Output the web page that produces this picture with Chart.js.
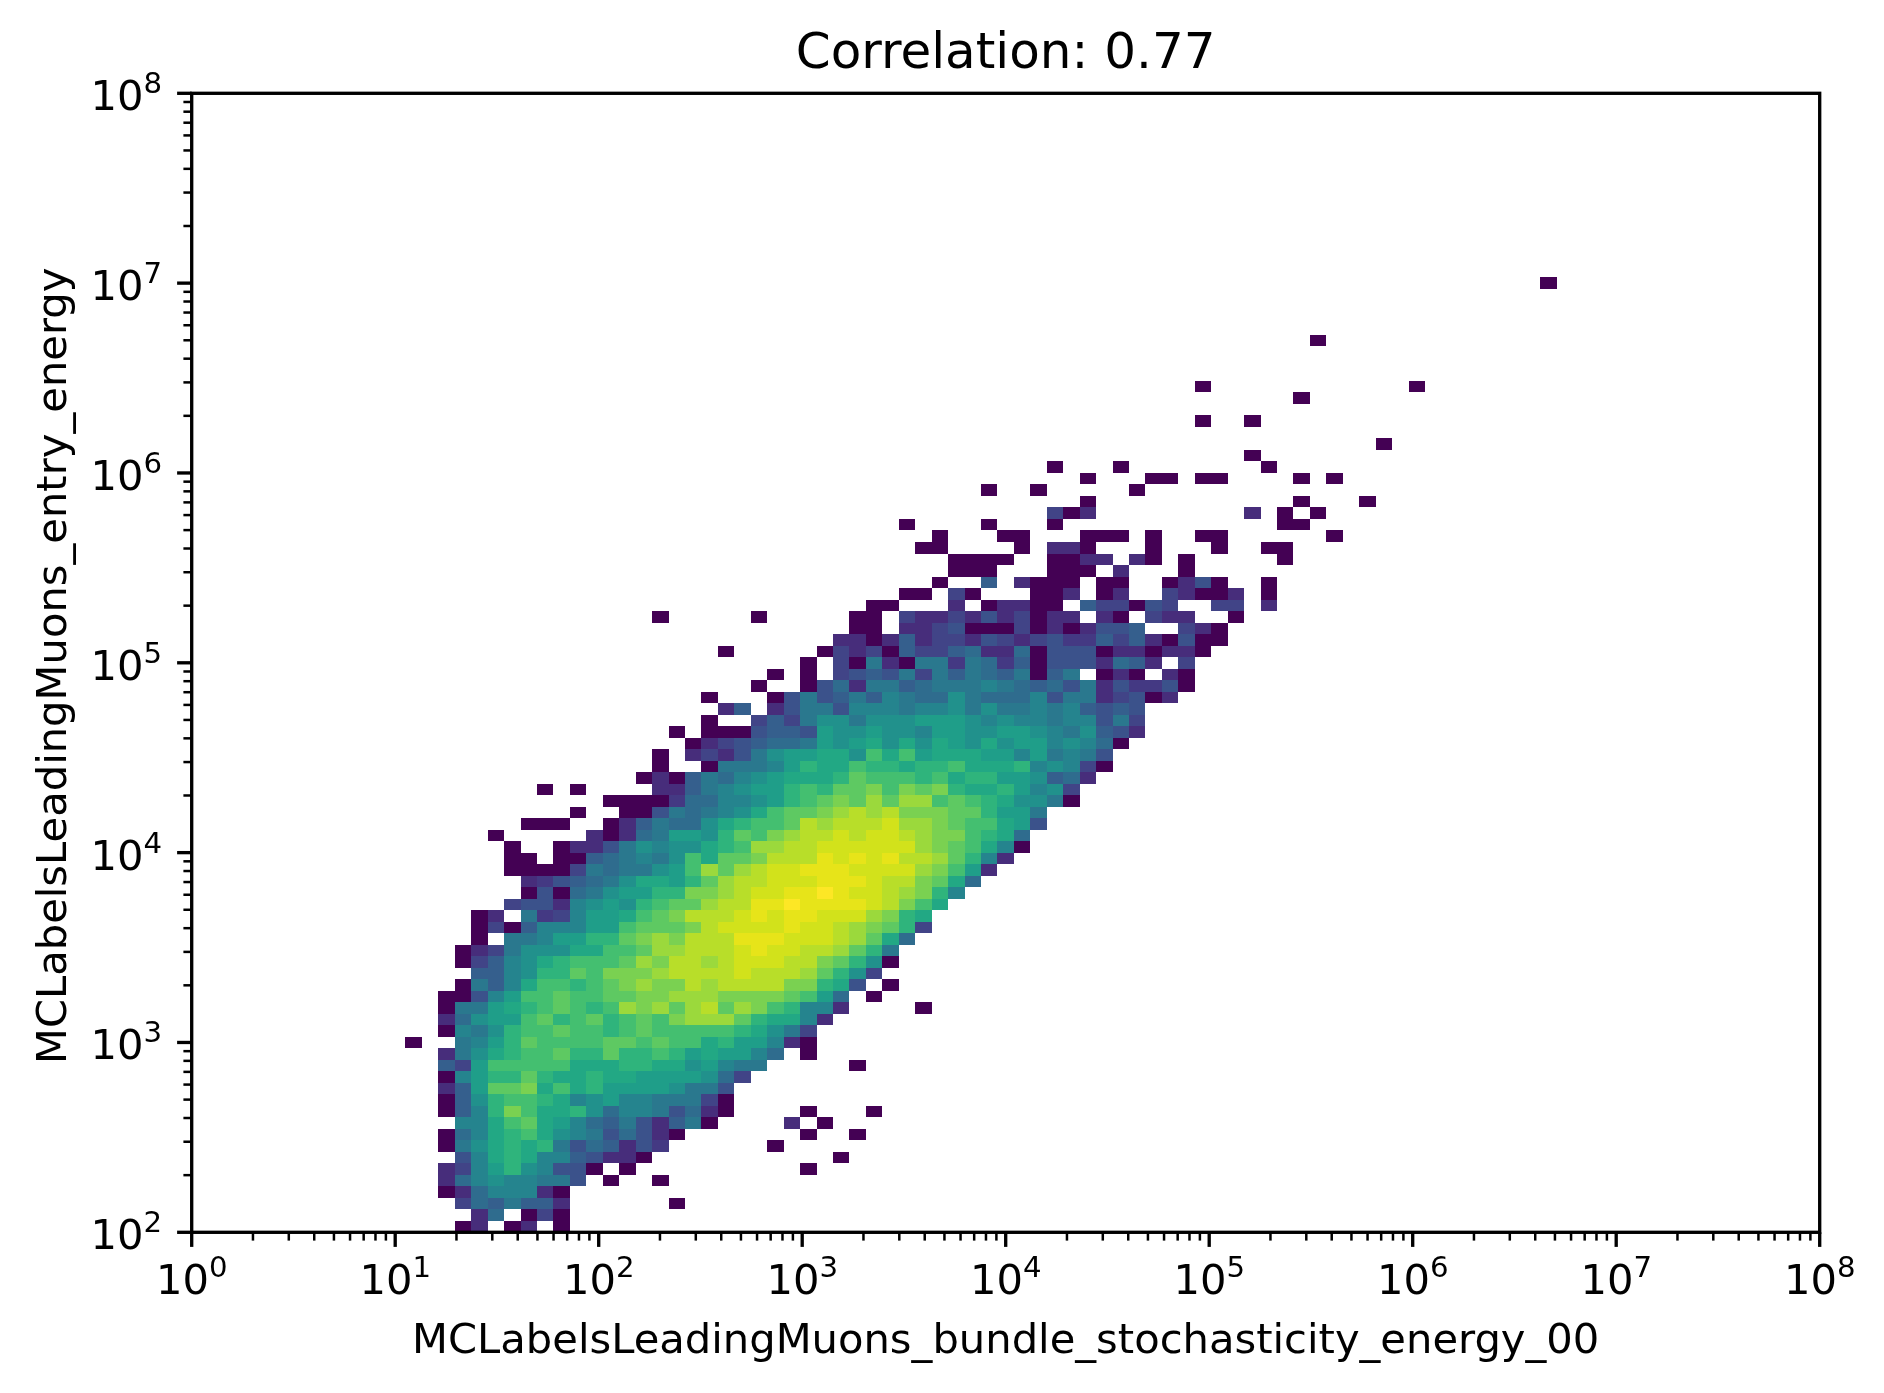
<!DOCTYPE html>
<html>
<head>
<meta charset="utf-8">
<title>Correlation</title>
<script src="https://cdn.jsdelivr.net/npm/chart.js@4"></script>
<style>
    html, body { margin: 0; padding: 0; background: #fff; }
    canvas { display: block; }
</style>
</head>
<body>
<canvas id="myChart" width="1884" height="1393"></canvas>
<script>
const titleText = "Correlation: 0.77";
const xLabel = "MCLabelsLeadingMuons_bundle_stochasticity_energy_00";
const yLabel = "MCLabelsLeadingMuons_entry_energy";

const xDecades = [0, 1, 2, 3, 4, 5, 6, 7, 8];
const yDecades = [2, 3, 4, 5, 6, 7, 8];
const minorSteps = [2, 3, 4, 5, 6, 7, 8, 9];
const binCount = 99;

// colour of each level, level is the log count on a 0-21 scale
const levelColors = [
    "#440154", "#471365", "#472d7b", "#443983", "#414487", "#3b528b", "#355f8d",
    "#2f6c8e", "#2a788e", "#25848e", "#21918c", "#1f9e89", "#22a884", "#2fb47c",
    "#44bf70", "#5ec962", "#7ad151", "#9bd93c", "#b8de29", "#d2e21b", "#e7e419", "#fde725"
];

// one entry per y bin from the bottom, each run is [first x bin, level, level, ...]
const heatRows = [
    [[16,0,2],[19,0,2],[22,0]],
    [[17,2,7],[20,0,4,0]],
    [[16,4,7,6,8,6,6,2],[29,0]],
    [[15,0,2,7,9,9,9,2,0]],
    [[15,2,7,9,10,9,9,8,8,5],[25,0],[28,0]],
    [[15,2,4,9,11,13,10,9,5,5,0],[26,0],[37,0]],
    [[16,5,9,12,13,12,9,9,6,5,2,2,0],[39,0]],
    [[15,0,8,10,12,13,12,13,8,5,7,6,2,5,3],[35,0]],
    [[15,0,7,9,12,13,14,12,10,9,8,5,7,5,2,0],[37,0],[40,0]],
    [[16,9,9,12,14,15,12,11,9,7,6,8,5,2,6,8,0],[36,2],[38,0]],
    [[15,0,6,9,13,16,14,12,12,13,10,7,9,9,8,5,7,2,0],[37,0],[41,0]],
    [[15,0,6,10,13,14,14,13,12,9,10,11,9,9,8,8,8,4,0]],
    [[15,2,6,11,15,15,16,12,14,12,13,11,11,11,11,10,8,8,5]],
    [[15,0,9,11,13,13,15,13,12,12,13,12,12,11,11,11,11,10,7,4]],
    [[15,6,4,11,14,14,14,14,14,12,12,12,13,13,12,12,10,11,9,8,8],[40,0]],
    [[15,2,8,10,12,13,14,14,15,13,13,15,13,13,14,13,11,12,11,11,9,7],[37,0]],
    [[13,0],[16,8,9,11,13,15,14,14,14,14,15,15,14,15,14,14,12,13,11,11,9,2,0]],
    [[15,0,9,8,10,13,14,14,15,14,14,13,14,15,14,14,14,14,14,13,12,10,8,4]],
    [[15,2,7,10,11,11,14,15,13,14,15,13,14,15,14,16,17,17,17,15,13,12,12,9,2]],
    [[15,0,8,8,11,12,13,14,15,14,13,14,17,16,17,15,17,18,15,17,16,14,13,9,9,2],[44,0]],
    [[15,0,0,5,9,11,14,14,15,14,14,15,15,16,16,17,17,17,16,16,16,16,15,14,11,7],[41,0]],
    [[16,0,8,6,9,12,14,14,13,14,15,16,17,16,16,18,17,18,18,18,18,16,16,13,12,5],[42,0]],
    [[17,6,6,9,10,13,13,15,14,16,16,16,17,18,18,18,18,19,18,18,18,17,15,13,10,4]],
    [[16,0,4,6,9,10,12,13,14,14,14,15,17,16,18,18,17,18,19,19,19,18,18,16,15,13,10,0]],
    [[16,0,2,4,8,10,10,10,12,12,14,14,15,17,17,18,18,18,19,20,19,19,18,18,17,15,13,8]],
    [[17,0],[19,8,8,9,11,11,13,13,15,16,17,16,18,18,18,20,20,20,19,19,19,18,17,15,12,7]],
    [[17,0,4,0,6,9,9,9,11,11,14,15,15,15,16,18,19,19,19,19,20,19,19,18,17,16,15,13,4]],
    [[17,0,2],[20,8,3,4,9,11,11,12,14,15,16,18,18,18,19,20,19,20,20,19,19,19,17,16,13,12]],
    [[19,4,5,5,2,9,10,11,10,13,14,15,15,17,18,18,20,20,21,20,20,20,20,19,18,16,14,12]],
    [[20,0,5,0,7,8,10,11,11,13,13,16,16,17,18,19,19,20,20,21,20,19,19,18,17,16,13,9]],
    [[20,2,3,5,6,7,8,10,12,12,11,13,15,17,18,18,19,19,19,20,20,20,19,18,18,16,15,12,7]],
    [[19,0,0,0,0,4,8,7,8,8,10,11,14,17,15,17,18,19,19,20,20,20,19,19,19,19,17,16,14,11,2]],
    [[19,0,0],[22,0,0,6,7,8,9,8,10,14,12,15,15,16,18,18,18,20,19,20,19,20,18,18,17,15,13,9,2]],
    [[19,0],[22,0,2,2,5,8,10,9,10,10,12,13,14,17,17,18,18,19,19,19,19,19,19,17,16,15,14,12,9,0]],
    [[18,0],[24,2,0,2,7,8,11,11,10,13,15,14,16,17,18,18,19,18,19,19,18,17,16,16,14,13,12,7]],
    [[20,0,0,0],[25,0,2,6,8,7,7,10,12,13,14,14,15,18,17,18,18,18,19,17,17,16,15,14,14,12,11,5]],
    [[23,0],[26,0,0,5,8,7,8,9,10,12,14,15,15,16,17,18,17,18,16,16,16,15,15,13,11,11,8]],
    [[25,0,0,0,0,3,7,7,9,9,10,11,13,14,15,16,15,17,15,17,17,14,15,14,13,12,10,10,8,0]],
    [[21,0],[23,0],[28,2,2,6,8,9,10,11,11,13,14,13,15,15,16,14,16,15,16,13,12,12,13,11,9,10,4]],
    [[27,0,2,0,6,8,7,9,10,11,12,12,12,13,15,14,14,14,13,14,12,13,13,11,11,10,6,7,2]],
    [[28,0],[31,0,8,8,8,9,11,13,12,12,14,13,13,12,13,13,14,12,12,12,13,9,10,9,4,0]],
    [[28,0],[30,2,4,2,5,8,10,11,11,12,12,10,14,12,14,11,12,12,12,11,11,9,11,8,9,8,5]],
    [[30,0,2,4,5,6,7,7,8,11,10,11,12,10,12,10,12,11,10,12,10,11,11,9,10,9,7,0]],
    [[29,0],[31,0,0,0,5,6,6,5,11,10,10,11,10,10,9,11,11,10,10,11,11,10,9,8,10,6,5,2]],
    [[31,0],[34,4,6,4,8,10,10,8,10,10,10,11,11,11,10,9,10,9,9,8,9,9,5,8,4]],
    [[32,2,6],[35,2,5,8,8,5,9,9,9,8,9,9,10,8,10,8,8,9,8,9,6,5,6,5]],
    [[31,0],[35,0,5,8,5,6,8,6,9,8,7,7,10,8,7,7,7,9,5,8,8,2,4,5,0,2]],
    [[34,0],[37,0,5,7,2,8,8,6,7,8,8,8,9,8,7,6,7,5,8,2,5,3,3,5,0]],
    [[35,0],[37,0],[39,4,5,6,5,8,4,8,6,8,7,6,8,0,6,8],[55,0,2,0],[59,2,0]],
    [[37,0],[39,4,0,8,2,0,8,8,3,8,7,3,6,0,5,5,5,2,7,6,2],[60,4]],
    [[32,0],[38,0,4,2,4,0,6,4,4,6,7,2,2,7,0,5,5,5,0,2,2,0,2,2,0]],
    [[39,2,2,0,2,6,2,4,4,2,5,4,2,4,5,3,3,6,4,6,2,0,5,0,0]],
    [[40,0,0],[43,2,2,4,5,0,0,0,4,0,2,0,2,5,5,6],[60,4,2,0]],
    [[28,0],[34,0],[40,0,0],[43,4,2,2,4,2,5,2,4,0,2,2],[55,2,0],[58,4,2,2],[63,0]],
    [[41,0,0],[46,2],[48,0,2,2,0,0],[54,6,4,4,0,5,4],[62,4,4],[65,2]],
    [[43,0,0],[46,4,0],[51,0,0,2],[55,0,2],[59,4,2,0,0,2],[65,0]],
    [[45,0],[48,6],[50,2,0,0,0],[55,0,0],[59,0,2,5,0],[65,0]],
    [[46,0,0,0],[52,0,0,0],[56,2],[60,0]],
    [[46,0,0,0,0],[52,0,0,2,2],[57,2,0],[60,0],[66,0]],
    [[44,0,0],[50,0],[52,2,2,0],[58,0],[62,0],[65,0,0]],
    [[45,0],[49,0,0],[54,0,0,0],[58,0],[61,0,0],[69,0]],
    [[43,0],[48,0],[52,0],[66,0,0]],
    [[52,4,0,2],[64,2],[66,0],[68,0]],
    [[54,0],[67,0],[71,0]],
    [[48,0],[51,0],[57,0]],
    [[54,0],[58,0,0],[61,0,0],[67,0],[69,0]],
    [[52,0],[56,0],[65,0]],
    [[64,0]],
    [[72,0]],
    [],
    [[61,0],[64,0]],
    [],
    [[67,0]],
    [[61,0],[74,0]],
    [], [], [],
    [[68,0]],
    [], [], [], [],
    [[82,0]]
];

const xEdge = i => Math.pow(10, 8 * i / binCount);
const yEdge = j => Math.pow(10, 2 + 6 * j / binCount);

const heatPoints = [];
heatRows.forEach((runs, row) => {
    runs.forEach(run => {
        run.slice(1).forEach((level, k) => {
            const col = run[0] + k;
            heatPoints.push({
                x: Math.sqrt(xEdge(col) * xEdge(col + 1)),
                y: Math.sqrt(yEdge(row) * yEdge(row + 1)),
                col, row, level
            });
        });
    });
});

function logTicks(decades) {
    const ticks = [];
    decades.forEach((d, idx) => {
        ticks.push({ value: Math.pow(10, d), major: true, exponent: d });
        if (idx < decades.length - 1) {
            minorSteps.forEach(s => ticks.push({ value: s * Math.pow(10, d), major: false }));
        }
    });
    return ticks;
}

const fontFamily = "'DejaVu Sans'";
const labelSize = 41.67;
const expSize = 29.2;

// the cells, through the scales of the chart
const heatmapPlugin = {
    id: "heatmap",
    beforeDatasetsDraw(chart) {
        const { ctx, scales: { x, y } } = chart;
        ctx.save();
        chart.data.datasets[0].data.forEach(p => {
            const left = Math.round(x.getPixelForValue(xEdge(p.col)));
            const right = Math.round(x.getPixelForValue(xEdge(p.col + 1)));
            const bottom = Math.round(y.getPixelForValue(yEdge(p.row)));
            const top = Math.round(y.getPixelForValue(yEdge(p.row + 1)));
            ctx.fillStyle = levelColors[p.level];
            ctx.fillRect(left, top, right - left, bottom - top);
        });
        ctx.restore();
    }
};

function drawPower(ctx, exponent, px, baseline, align) {
    ctx.font = `${labelSize}px ${fontFamily}`;
    const w1 = ctx.measureText("10").width;
    ctx.font = `${expSize}px ${fontFamily}`;
    const w2 = ctx.measureText(String(exponent)).width;
    const start = align === "right" ? px - w1 - w2 : px - (w1 + w2) / 2;
    ctx.textAlign = "left";
    ctx.textBaseline = "alphabetic";
    ctx.font = `${labelSize}px ${fontFamily}`;
    ctx.fillText("10", start, baseline);
    ctx.font = `${expSize}px ${fontFamily}`;
    ctx.fillText(String(exponent), start + w1, baseline - 17);
}

// matplotlib style box, ticks, powers of ten and the y label
const axesPlugin = {
    id: "axesBox",
    afterDraw(chart) {
        const { ctx, chartArea: area, scales: { x, y } } = chart;
        ctx.save();
        ctx.strokeStyle = "#000";
        ctx.fillStyle = "#000";

        x.ticks.forEach(t => {
            const px = x.getPixelForValue(t.value);
            ctx.lineWidth = t.major ? 3.33 : 2.5;
            ctx.beginPath();
            ctx.moveTo(px, area.bottom);
            ctx.lineTo(px, area.bottom + (t.major ? 14.6 : 8.3));
            ctx.stroke();
            if (t.major) drawPower(ctx, t.exponent, px, 1294, "center");
        });
        y.ticks.forEach(t => {
            const py = y.getPixelForValue(t.value);
            ctx.lineWidth = t.major ? 3.33 : 2.5;
            ctx.beginPath();
            ctx.moveTo(area.left, py);
            ctx.lineTo(area.left - (t.major ? 14.6 : 8.3), py);
            ctx.stroke();
            if (t.major) drawPower(ctx, t.exponent, 162, py + 17, "right");
        });

        ctx.save();
        ctx.translate(55, (area.top + area.bottom) / 2 + 3);
        ctx.rotate(-Math.PI / 2);
        ctx.font = `${labelSize}px ${fontFamily}`;
        ctx.textAlign = "center";
        ctx.textBaseline = "middle";
        ctx.fillText(yLabel, 0, 0);
        ctx.restore();

        ctx.lineWidth = 3.33;
        ctx.lineCap = "square";
        ctx.strokeRect(area.left, area.top, area.right - area.left, area.bottom - area.top);
        ctx.restore();
    }
};

const config = {
    type: "scatter",
    data: {
        datasets: [
            {
                data: heatPoints,
                pointRadius: 0,
                showLine: false,
            }
        ]
    },
    options: {
        responsive: false,
        animation: false,
        events: [],
        layout: {
            autoPadding: false,
            padding: { left: 0, right: 64.3, top: 0, bottom: 0 },
        },
        scales: {
            x: {
                type: "logarithmic",
                min: 1,
                max: 1e8,
                grid: { display: false },
                border: { display: false },
                ticks: { display: false },
                afterBuildTicks: scale => { scale.ticks = logTicks(xDecades); },
                afterFit: scale => { scale.height = 160.7; },
                title: {
                    display: true,
                    text: xLabel,
                    color: "#000",
                    font: { family: fontFamily, size: labelSize },
                    padding: { top: 0, bottom: 26 },
                },
            },
            y: {
                type: "logarithmic",
                min: 100,
                max: 1e8,
                grid: { display: false },
                border: { display: false },
                ticks: { display: false },
                afterBuildTicks: scale => { scale.ticks = logTicks(yDecades); },
                afterFit: scale => { scale.width = 191.7; },
            },
        },
        plugins: {
            legend: { display: false },
            tooltip: { enabled: false },
            title: {
                display: true,
                text: titleText,
                color: "#000",
                fullSize: false,
                font: { family: fontFamily, size: 50, weight: "normal" },
                padding: { top: 25, bottom: 8.3 },
            },
        },
    },
    plugins: [heatmapPlugin, axesPlugin],
};

new Chart("myChart", config);
</script>
</body>
</html>
